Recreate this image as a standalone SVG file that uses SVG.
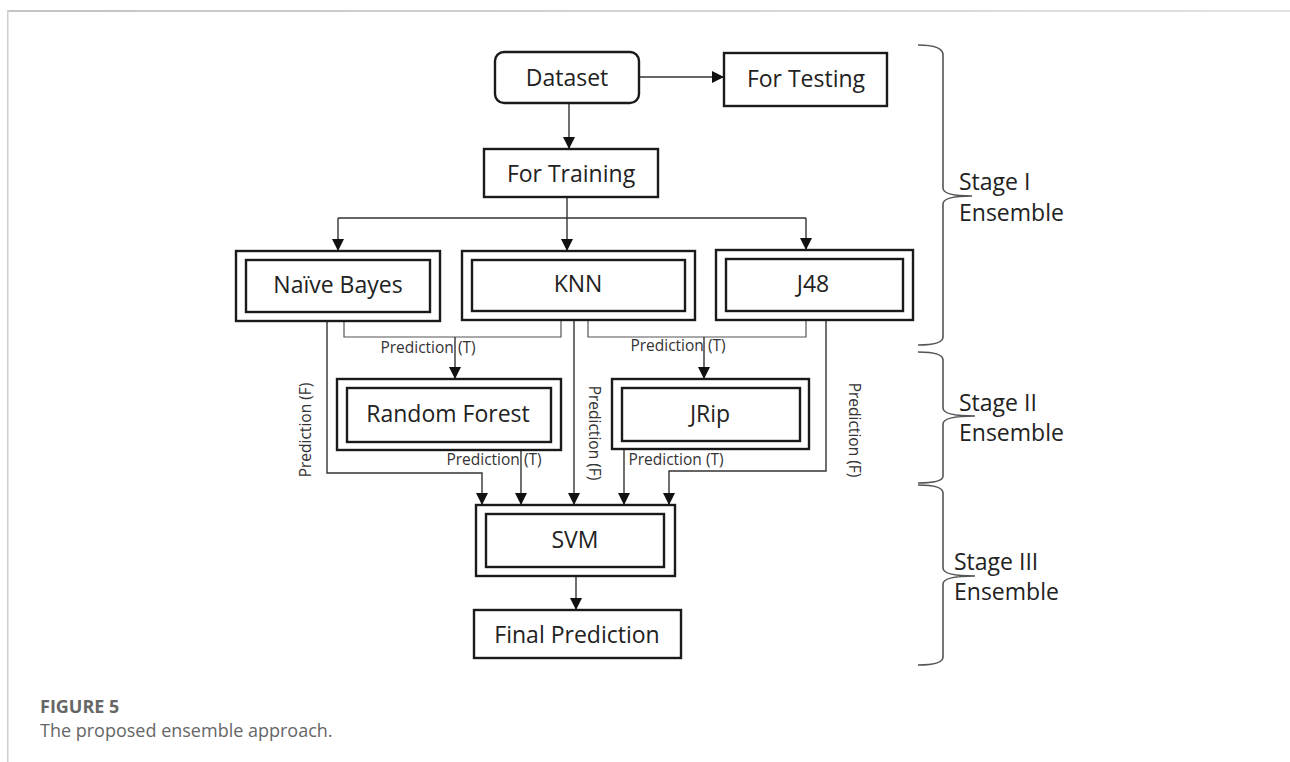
<svg xmlns="http://www.w3.org/2000/svg" width="1290" height="762" viewBox="0 0 1290 762">
<style>
.box{fill:#fff;stroke:#1a1a1a;stroke-width:2.4}
.lbl{font-family:"Open Sans","Noto Sans",sans-serif;font-size:23px;fill:#222;text-anchor:middle;dominant-baseline:central}
.plbl{font-family:"Open Sans","Noto Sans",sans-serif;font-size:15.5px;fill:#333;text-anchor:middle;dominant-baseline:central}
.stg{font-family:"Open Sans","Noto Sans",sans-serif;font-size:23px;fill:#222}
.con{fill:none;stroke:#333;stroke-width:1.4}
.thin{fill:none;stroke:#555;stroke-width:1.2}
.arr{fill:none;stroke:#333;stroke-width:1.4;marker-end:url(#ah)}
.brace{fill:none;stroke:#555;stroke-width:1.6}
.cap{font-family:"Open Sans","Noto Sans",sans-serif;font-size:18px;fill:#666}
</style>
<defs>
<marker id="ah" viewBox="0 0 12 12" refX="12" refY="6" markerWidth="12" markerHeight="12" markerUnits="userSpaceOnUse" orient="auto">
<path d="M0,0 L12,6 L0,12 Z" fill="#111"/>
</marker>
<linearGradient id="tg" x1="0" x2="1" y1="0" y2="0">
<stop offset="0" stop-color="#c4c4c4"/>
<stop offset="1" stop-color="#e2e2e2"/>
</linearGradient>
</defs>
<rect width="1290" height="762" fill="#fff"/>
<g id="frame">
<rect x="7" y="10" width="1283" height="2" fill="url(#tg)"/>
<rect x="7" y="10" width="1.5" height="752" fill="#cfcfcf"/>
</g>

<g id="connectors">
<path class="arr" d="M639,77 H724"/>
<path class="arr" d="M569,103 V149"/>
<path class="con" d="M567,197 V218 M338,218 H806"/>
<path class="arr" d="M338,218 V251"/>
<path class="arr" d="M567,218 V251"/>
<path class="arr" d="M806,218 V250"/>
<path class="thin" d="M344,321 V337 H561 V320"/>
<path class="arr" d="M455,337 V379"/>
<path class="thin" d="M588,320 V337 H806 V321"/>
<path class="arr" d="M704,337 V379"/>
<path class="arr" d="M327,321 V473 H482 V505"/>
<path class="arr" d="M521,450 V505"/>
<path class="arr" d="M574,320 V505"/>
<path class="arr" d="M624,449 V505"/>
<path class="arr" d="M826,320 V471 H669 V505"/>
<path class="arr" d="M576,576 V610"/>
<text class="plbl" x="428" y="347">Prediction (T)</text>
<text class="plbl" x="678" y="345">Prediction (T)</text>
<text class="plbl" x="494" y="459">Prediction (T)</text>
<text class="plbl" x="676" y="459">Prediction (T)</text>
<text class="plbl" transform="translate(305,430) rotate(-90)">Prediction (F)</text>
<text class="plbl" transform="translate(595,433) rotate(90)">Prediction (F)</text>
<text class="plbl" transform="translate(855,430) rotate(90)">Prediction (F)</text>
</g>

<g id="dataset">
<rect class="box" x="495" y="52" width="144" height="51" rx="9"/>
<text class="lbl" x="567" y="77">Dataset</text>
</g>
<g id="for-testing">
<rect class="box" x="724" y="53" width="163" height="53"/>
<text class="lbl" x="806" y="78">For Testing</text>
</g>
<g id="for-training">
<rect class="box" x="484" y="149" width="174" height="48"/>
<text class="lbl" x="571" y="173">For Training</text>
</g>
<g id="naive-bayes">
<rect class="box" x="236" y="251" width="204" height="70"/>
<rect class="box" x="246" y="260" width="184" height="52"/>
<text class="lbl" x="338" y="284">Naïve Bayes</text>
</g>
<g id="knn">
<rect class="box" x="462" y="251" width="233" height="69"/>
<rect class="box" x="472" y="260" width="213" height="51"/>
<text class="lbl" x="578" y="283">KNN</text>
</g>
<g id="j48">
<rect class="box" x="716" y="250" width="197" height="70"/>
<rect class="box" x="726" y="259" width="177" height="52"/>
<text class="lbl" x="813" y="283">J48</text>
</g>
<g id="random-forest">
<rect class="box" x="337" y="379" width="224" height="71"/>
<rect class="box" x="347" y="388" width="204" height="54"/>
<text class="lbl" x="448" y="413">Random Forest</text>
</g>
<g id="jrip">
<rect class="box" x="612" y="379" width="197" height="70"/>
<rect class="box" x="622" y="388" width="178" height="53"/>
<text class="lbl" x="710" y="413">JRip</text>
</g>
<g id="svm">
<rect class="box" x="476" y="505" width="199" height="71"/>
<rect class="box" x="486" y="514" width="178" height="53"/>
<text class="lbl" x="575" y="539">SVM</text>
</g>
<g id="final-prediction">
<rect class="box" x="474" y="610" width="207" height="48"/>
<text class="lbl" x="577" y="634">Final Prediction</text>
</g>

<g id="stage-braces">
<path class="brace" d="M918,45 Q943,45 943,55 V188 Q943,196 972,196 Q943,196 943,204 V337 Q943,345 918,345"/>
<path class="brace" d="M918,352 Q943,352 943,360 V408 Q943,416 975,416 Q943,416 943,424 V476 Q943,483 918,483"/>
<path class="brace" d="M918,485 Q943,485 943,493 V568 Q943,576 975,576 Q943,576 943,584 V657 Q943,665 918,665"/>
<text class="stg" x="959" y="190">Stage I</text>
<text class="stg" x="959" y="221">Ensemble</text>
<text class="stg" x="959" y="411">Stage II</text>
<text class="stg" x="959" y="441">Ensemble</text>
<text class="stg" x="954" y="570">Stage III</text>
<text class="stg" x="954" y="600">Ensemble</text>
</g>

<g id="caption">
<text class="cap" x="40" y="713" font-weight="bold">FIGURE 5</text>
<text class="cap" x="40" y="737">The proposed ensemble approach.</text>
</g>
</svg>
